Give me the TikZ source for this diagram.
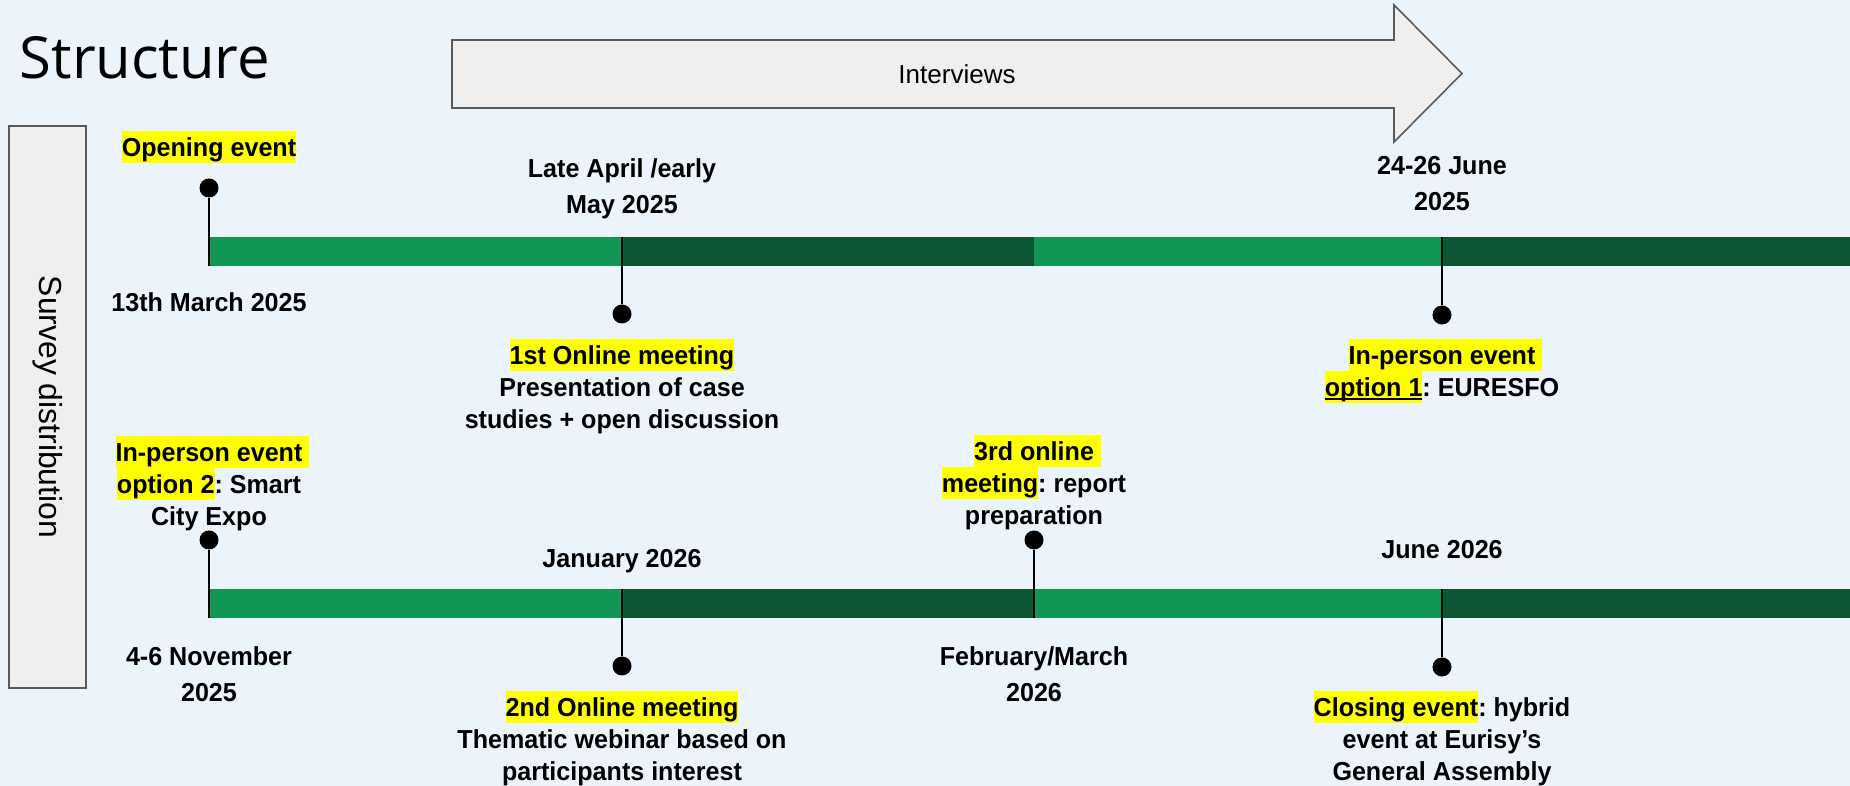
\documentclass[tikz,border=0pt]{standalone}
\usepackage{fontspec}
\setmainfont{Liberation Sans}[BoldFeatures={FakeStretch=0.965}]
\newfontfamily\titlefont{Open Sans}
\usetikzlibrary{positioning}
\frenchspacing

\definecolor{bgblue}{HTML}{EBF3FB}
\definecolor{lightgreen}{HTML}{119655}
\definecolor{darkgreen}{HTML}{0B5733}
\definecolor{boxgray}{HTML}{EFEFEF}
\definecolor{edgegray}{HTML}{595959}
\definecolor{hlyellow}{HTML}{FFFF00}

\newcommand\hlstrut{\rule[-1.7pt]{0pt}{9.1pt}}
\newcommand\hlbox[1]{{\setlength{\fboxsep}{0pt}\colorbox{hlyellow}{\hlstrut #1}}}
\newcommand\ulbox[1]{\setbox0\hbox{#1}\rlap{\rule[-1pt]{\wd0}{0.5pt}}\box0}

\tikzset{
  eventdot/.style={circle, fill=black, inner sep=0pt, minimum size=0.19cm},
  stem/.style={line width=0.6pt},
  event/.style={font=\bfseries\fontsize{7.4}{9.1}\selectfont, align=center,
    inner sep=0pt, anchor=north, execute at begin node=\hlstrut},
  datelabel/.style={event, font=\bfseries\fontsize{7.4}{10.24}\selectfont},
}

\begin{document}
\begin{tikzpicture}[y=-1cm]

	\fill[bgblue] (0,0) rectangle (18.5,7.86);
	\useasboundingbox (0,0) rectangle (18.5,7.86);

	\node[anchor=base west, inner sep=0pt, font=\titlefont\fontsize{16.5}{20}\selectfont] (title) at (0.19,0.785) {Structure};

	% interviews arrow
	\draw[edgegray, fill=boxgray, line width=0.45pt] (4.52,0.40) -- (13.94,0.40) -- (13.94,0.05) -- (14.62,0.735) -- (13.94,1.42) -- (13.94,1.08) -- (4.52,1.08) -- cycle;
	\node[font=\fontsize{7.4}{9}\selectfont] (interviews) at (9.57,0.74) {Interviews};

	% survey box
	\node[draw=edgegray, fill=boxgray, line width=0.45pt, rotate=-90, minimum width=5.62cm, minimum height=0.77cm, font=\fontsize{9.07}{11}\selectfont] (survey) at (0.475,4.07) {Survey distribution};

	% the two bars
	\foreach \y in {2.37,5.89} {
		\fill[lightgreen] (2.09,\y) rectangle (6.22,\y+0.29);
		\fill[darkgreen] (6.22,\y) rectangle (10.34,\y+0.29);
		\fill[lightgreen] (10.34,\y) rectangle (14.42,\y+0.29);
		\fill[darkgreen] (14.42,\y) rectangle (18.5,\y+0.29);
	}

	% first row
	\coordinate (open bar) at (2.09,2.66);
	\coordinate (meet1 bar) at (6.22,2.37);
	\coordinate (euresfo bar) at (14.42,2.37);
	\node[eventdot] (open) at (2.09,1.88) {};
	\node[eventdot] (meet1) at (6.22,3.14) {};
	\node[eventdot] (euresfo) at (14.42,3.15) {};
	\draw[stem] (open) -- (open bar);
	\draw[stem] (meet1 bar) -- (meet1);
	\draw[stem] (euresfo bar) -- (euresfo);

	\node[event] (open text) at (2.09,1.30) {\hlbox{Opening event}};
	\node[event] (open date) at (2.09,2.85) {13th March 2025};
	\node[datelabel] (meet1 date) at (6.22,1.58) {Late April /early\\May 2025};
	\node[event] (meet1 text) at (6.22,3.38) {\hlbox{1st Online meeting}\\Presentation of case\\studies + open discussion};
	\node[datelabel] (euresfo date) at (14.42,1.56) {24-26 June\\2025};
	\node[event] (euresfo text) at (14.42,3.38) {\hlbox{In-person event}\rlap{\hlbox{\ }}\\\hlbox{\ulbox{option 1}}: EURESFO};

	% second row
	\coordinate (smart bar) at (2.09,6.18);
	\coordinate (meet2 bar) at (6.22,5.89);
	\coordinate (meet3 bar) at (10.34,6.18);
	\coordinate (closing bar) at (14.42,5.89);
	\node[eventdot] (smart) at (2.09,5.40) {};
	\node[eventdot] (meet2) at (6.22,6.66) {};
	\node[eventdot] (meet3) at (10.34,5.40) {};
	\node[eventdot] (closing) at (14.42,6.67) {};
	\draw[stem] (smart) -- (smart bar);
	\draw[stem] (meet2 bar) -- (meet2);
	\draw[stem] (meet3) -- (meet3 bar);
	\draw[stem] (closing bar) -- (closing);

	\node[event] (smart text) at (2.09,4.35) {\hlbox{In-person event}\rlap{\hlbox{\ }}\\\hlbox{option 2}: Smart\\City Expo};
	\node[datelabel] (smart date) at (2.09,6.46) {4-6 November\\2025};
	\node[event] (meet2 date) at (6.22,5.41) {January 2026};
	\node[event] (meet2 text) at (6.22,6.90) {\hlbox{2nd Online meeting}\\Thematic webinar based on\\participants interest};
	\node[event] (meet3 text) at (10.34,4.34) {\hlbox{3rd online}\rlap{\hlbox{\ }}\\\hlbox{meeting}: report\\preparation};
	\node[datelabel] (meet3 date) at (10.34,6.46) {February/March\\2026};
	\node[event] (closing date) at (14.42,5.32) {June 2026};
	\node[event] (closing text) at (14.42,6.90) {\hlbox{Closing event}: hybrid\\event at Eurisy’s\\General Assembly};

\end{tikzpicture}
\end{document}
